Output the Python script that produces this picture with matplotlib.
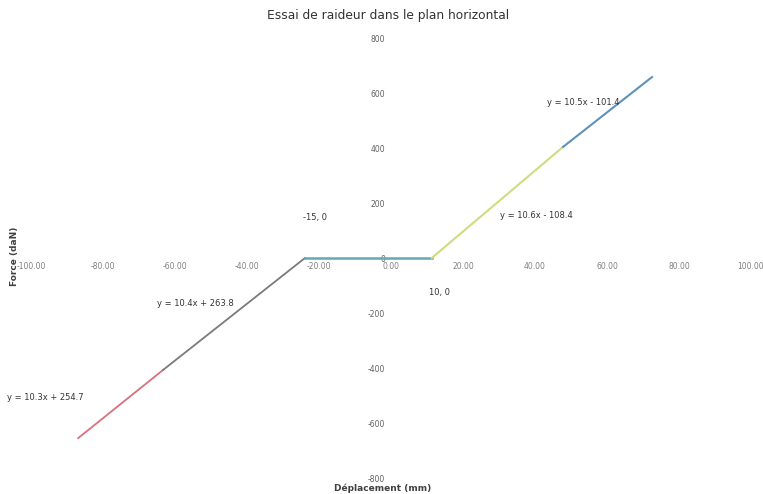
import matplotlib
matplotlib.use("Agg")
import matplotlib.pyplot as plt

# segments of the stiffness test curve (mm, daN)
red_x = [-86.9, -63.3]
red_y = [-655, -407]
grey_x = [-63.3, -23.9]
grey_y = [-407, 0]
flat_x = [-23.9, 11.3]
flat_y = [0, 0]
yellow_x = [11.3, 47.8]
yellow_y = [0, 404]
blue_x = [47.8, 72.5]
blue_y = [404, 658]

x_ticks = [-100, -80, -60, -40, -20, 0, 20, 40, 60, 80, 100]
y_ticks = [-800, -600, -400, -200, 0, 200, 400, 600, 800]

labels = ["y = 10.4x + 263.8", "y = 10.3x + 254.7", "y = 10.6x - 108.4",
          "y = 10.5x - 101.4", "-15, 0", "10, 0"]
label_pos = [(-54.4, -167), (-96.1, -509), (40.3, 153),
             (53.3, 567), (-21.1, 149), (13.6, -124)]

W, H = 763, 494
fig = plt.figure(figsize=(W / 100, H / 100), dpi=100)
ax = fig.add_axes([31 / W, 1 - 478 / H, 720 / W, 440 / H])

ax.plot(red_x, red_y, color="#d9707a", lw=1.3)
ax.plot(grey_x, grey_y, color="#7a7a7a", lw=1.3)
ax.plot(flat_x, flat_y, color="#62a9b2", lw=1.8)
ax.plot(yellow_x, yellow_y, color="#cfdc7f", lw=1.5)
ax.plot(blue_x, blue_y, color="#5e92b8", lw=1.5)

ax.set_xlim(-100, 100)
ax.set_ylim(-800, 800)
for s in ax.spines.values():
    s.set_visible(False)
ax.spines["left"].set_position("zero")
ax.spines["bottom"].set_position("zero")

ax.set_xticks(x_ticks)
ax.set_xticklabels(["%.2f" % v for v in x_ticks])
ax.set_yticks(y_ticks)
ax.set_yticklabels([str(v) for v in y_ticks])
ax.tick_params(axis="both", length=0, labelsize=5.5, labelcolor="#808080")
ax.tick_params(axis="x", pad=3)
ax.tick_params(axis="y", pad=4.3)
for lab in ax.get_yticklabels():
    lab.set_zorder(5)
    lab.set_color("#606060")

for txt, (tx, ty) in zip(labels, label_pos):
    ax.text(tx, ty, txt, fontsize=6, color="#333333", ha="center", va="center")

fig.text(388 / W, 1 - 15 / H, "Essai de raideur dans le plan horizontal",
         fontsize=8.8, color="#333333", ha="center", va="center")
fig.text(383 / W, 1 - 488 / H, "Déplacement (mm)", fontsize=6.5,
         fontweight="bold", color="#404040", ha="center", va="center")
fig.text(14 / W, 1 - 256 / H, "Force (daN)", fontsize=6.5, rotation=90,
         fontweight="bold", color="#404040", ha="center", va="center")

fig.savefig("out.png", dpi=100)
